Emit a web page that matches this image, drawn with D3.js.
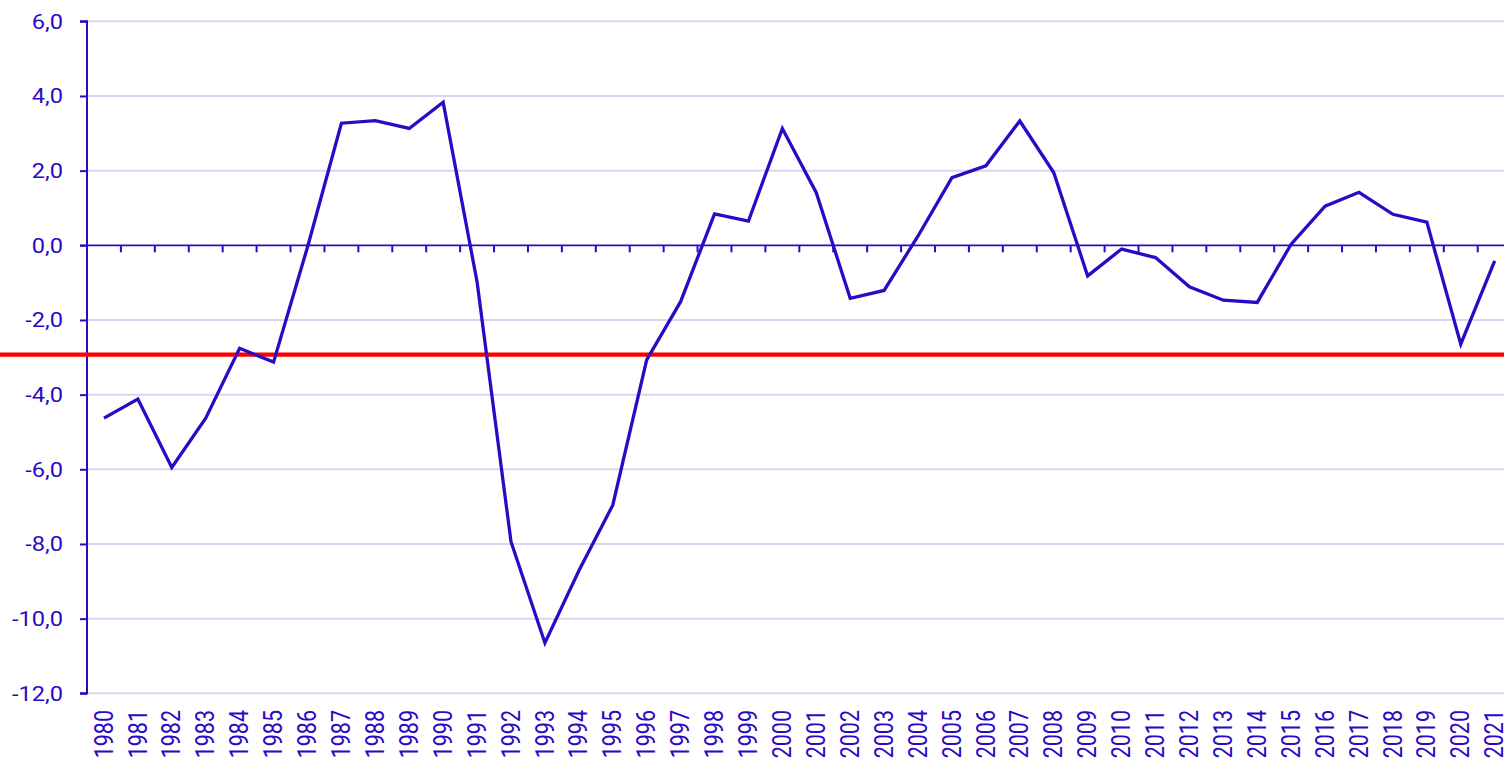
<!DOCTYPE html>
<html><head><meta charset="utf-8">
<script src="https://cdn.jsdelivr.net/npm/d3@7"></script>
<style>html,body{margin:0;padding:0;background:#fff;}svg{display:block;}</style>
</head><body>
<svg id="c" width="1504" height="764"></svg>
<script>
const years = ["1980","1981","1982","1983","1984","1985","1986","1987","1988","1989","1990","1991","1992","1993","1994","1995","1996","1997","1998","1999","2000","2001","2002","2003","2004","2005","2006","2007","2008","2009","2010","2011","2012","2013","2014","2015","2016","2017","2018","2019","2020","2021"];
const values = [-4.63,-4.12,-5.95,-4.63,-2.76,-3.13,-0.05,3.27,3.34,3.13,3.83,-0.98,-7.94,-10.65,-8.72,-6.96,-3.07,-1.51,0.84,0.65,3.13,1.41,-1.42,-1.21,0.25,1.81,2.13,3.33,1.95,-0.82,-0.1,-0.33,-1.11,-1.47,-1.53,0.03,1.05,1.42,0.83,0.62,-2.65,-0.42];
const yTicks = [-12,-10,-8,-6,-4,-2,0,2,4,6];
const referenceValue = -2.93;

(function () {
const W = 1504, plotLeft = 87, plotTop = 21.3, plotBottom = 693.3, step = 33.92;
const ink = "#2a0ac4", grid = "#d6d6f2";
const sx = 1.18;
const svg = d3.select("#c");
const x = d3.scaleBand().domain(years).range([plotLeft, plotLeft + step * years.length]).padding(0);
const y = d3.scaleLinear().domain([-12, 6]).range([plotBottom, plotTop]);
const fmt = v => d3.format(".1f")(v).replace(".", ",").replace("−", "-");

// gridlines
svg.append("g").selectAll("line").data(yTicks.filter(t => t !== 0)).join("line")
  .attr("x1", plotLeft).attr("x2", W).attr("y1", d => y(d)).attr("y2", d => y(d))
  .attr("stroke", grid).attr("stroke-width", 2);

// y axis
const yAxis = svg.append("g").attr("transform", `translate(${plotLeft},0)`)
  .call(d3.axisLeft(y).tickValues(yTicks).tickSize(7).tickFormat(fmt));
yAxis.select(".domain").attr("stroke", ink).attr("stroke-width", 2).attr("d", `M-7,${plotTop}H0V${plotBottom}H-7`);
yAxis.selectAll(".tick line").attr("stroke", ink).attr("stroke-width", 2);
yAxis.selectAll(".tick text").attr("fill", ink).attr("font-family", "Roboto").attr("font-size", 20)
  .attr("x", null).attr("dy", null)
  .attr("text-anchor", "end").attr("dominant-baseline", "central")
  .attr("transform", `translate(-24,0) scale(${sx},1)`);

// zero line with category ticks
const zeroAxis = svg.append("g").attr("transform", `translate(0,${y(0)})`);
zeroAxis.append("line").attr("x1", plotLeft - 7).attr("x2", W).attr("y1", 0).attr("y2", 0)
  .attr("stroke", ink).attr("stroke-width", 1.8);
zeroAxis.selectAll("line.b").data(years.slice(1)).join("line").attr("class", "b")
  .attr("x1", d => x(d)).attr("x2", d => x(d)).attr("y1", 0).attr("y2", 7)
  .attr("stroke", ink).attr("stroke-width", 2);

// x labels
svg.append("g").selectAll("text").data(years).join("text")
  .attr("transform", d => `translate(${x(d) + x.bandwidth() / 2},710) scale(${sx},1) rotate(-90)`)
  .attr("text-anchor", "end").attr("dominant-baseline", "central")
  .attr("font-family", "Roboto").attr("font-size", 21.5).attr("fill", ink).text(d => d);

// reference line
svg.append("line").attr("x1", 0).attr("x2", W).attr("y1", y(referenceValue)).attr("y2", y(referenceValue))
  .attr("stroke", "#ff0000").attr("stroke-width", 4.3);

// series line
svg.append("path").datum(values)
  .attr("d", d3.line().x((d, i) => x(years[i]) + x.bandwidth() / 2).y(d => y(d)))
  .attr("fill", "none").attr("stroke", ink).attr("stroke-width", 3.3).attr("stroke-linejoin", "miter");
})();
</script>
</body></html>
